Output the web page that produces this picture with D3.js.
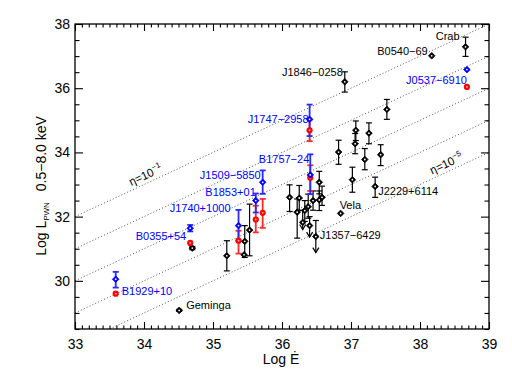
<!DOCTYPE html>
<html>
<head>
<meta charset="utf-8">
<script src="https://cdn.jsdelivr.net/npm/d3@7"></script>
<style>
  body { margin: 0; background: #fff; }
  text { font-family: "Liberation Sans", Arial, sans-serif; }
</style>
</head>
<body>
<svg id="chart" width="512" height="377"></svg>
<script>
// black points: log Edot, log L, error bar low / high (null = no bar)
const blackE  = [38.66, 38.17, 36.91, 37.52, 37.07, 37.06, 37.26, 36.82, 37.20, 37.43, 37.02, 37.35, 36.85,
                 36.11, 36.25, 36.22, 36.33, 36.38, 36.45, 36.54, 36.54, 36.58, 35.20, 35.46, 35.53, 35.45, 34.70, 34.51];
const blackL  = [37.29, 37.01, 36.20, 35.34, 34.69, 34.27, 34.60, 34.01, 33.78, 33.93, 33.15, 32.94, 32.10,
                 32.60, 32.58, 32.14, 32.19, 32.31, 32.50, 33.07, 32.52, 32.60, 30.78, 31.23, 31.58, 30.81, 31.02, 29.08];
const blackLo = [36.99, null, 35.88, 35.03, 34.37, 33.96, 34.27, 33.63, 33.46, 33.59, 32.76, 32.60, null,
                 32.16, 32.20, 31.33, 31.85, 31.95, 32.20, 32.71, 32.19, 32.35, 30.31, 30.73, 30.78, null, 30.97, 29.05];
const blackHi = [37.59, null, 36.51, 35.65, 34.98, 34.59, 34.92, 34.38, 34.12, 34.24, 33.54, 33.23, null,
                 32.99, 32.97, 32.55, 32.50, 32.70, 32.80, 33.41, 32.80, 32.95, 31.25, 31.72, 32.39, null, 31.07, 29.11];

// upper limits (black): point, top of bar, arrow tip
const limitE   = [36.30, 36.40, 36.49];
const limitL   = [31.82, 31.72, 31.38];
const limitTop = [32.19, 32.00, 31.88];
const limitTip = [31.60, 31.36, 30.88];

// pulsars with two measurements (blue and red)
const pairNames = ["B1929+10", "B0355+54", "J1740+1000", "B1853+01", "J1509\u22125850", "B1757\u221224", "J1747\u22122958", "J0537\u22126910"];
const pairE  = [33.59, 34.67, 35.37, 35.62, 35.72, 36.41, 36.40, 38.68];
const blueL  = [30.05, 31.64, 31.72, 32.50, 33.07, 33.30, 35.03, 36.58];
const blueLo = [29.79, 31.54, 31.25, 32.13, 32.71, 32.70, 34.51, null];
const blueHi = [30.28, 31.74, 32.21, 32.72, 33.44, 33.94, 35.49, null];
const redL   = [29.60, 31.18, 31.25, 31.91, 32.12, 33.21, 34.69, 36.04];
const redLo  = [null, null, 30.85, 31.51, 31.65, 32.80, 34.35, null];
const redHi  = [null, null, 31.56, 32.34, 32.55, 33.60, 35.02, null];

// black labels attached to black point index
const blackNames = ["Crab", "B0540\u221269", "J1846\u22120258", "J2229+6114", "Vela", "Geminga"];
const blackNameIdx = [0, 1, 2, 11, 12, 27];
const limitName = "J1357\u22126429";

// efficiency lines log L = log Edot + log eta
const etaExp = [-1, -2, -3, -4, -5];

const xTicks = [33, 34, 35, 36, 37, 38, 39];
const yTicks = [30, 32, 34, 36, 38];

// ---- layout ----
const svg = d3.select("#chart");
const plotLeft = 75, plotRight = 489, plotTop = 24, plotBottom = 329;

const x = d3.scaleLinear().domain([33, 39]).range([plotLeft, plotRight]);
const y = d3.scaleLinear().domain([28.5, 38]).range([plotBottom, plotTop]);

svg.append("defs").append("clipPath").attr("id", "plot")
  .append("rect").attr("x", plotLeft).attr("y", plotTop)
  .attr("width", plotRight - plotLeft).attr("height", plotBottom - plotTop);

// eta lines
const plot = svg.append("g").attr("clip-path", "url(#plot)");
plot.selectAll(".eta")
  .data(etaExp)
  .enter()
  .append("line")
  .attr("class", "eta")
  .attr("x1", x(33)).attr("y1", (d) => y(33 + d))
  .attr("x2", x(39)).attr("y2", (d) => y(39 + d))
  .attr("stroke", "#555")
  .attr("stroke-width", 1)
  .attr("stroke-dasharray", "1,2.2");

const angle = -Math.atan((y(33) - y(34)) / (x(34) - x(33))) * 180 / Math.PI;
function etaLabel(ex, exp) {
  const t = svg.append("text")
    .attr("transform", `translate(${x(ex)},${y(ex + exp)}) rotate(${angle}) translate(0,-4)`)
    .attr("text-anchor", "middle")
    .attr("font-size", 11.5)
    .attr("fill", "#000");
  t.append("tspan").text("\u03b7=10");
  t.append("tspan").attr("dy", -5).attr("font-size", 8).text("\u2212" + (-exp));
}
etaLabel(34.07, -1);
etaLabel(38.43, -5);

// axes: major and minor inward ticks on four sides
function axisSet(axisFn, scale, transform, major, minorStep, majorLen, minorLen, labels, pad) {
  const [d0, d1] = scale.domain();
  const minor = d3.range(d0, d1 + 1e-9, minorStep).filter((v) => !major.some((m) => Math.abs(m - v) < 1e-6));
  const gm = svg.append("g").attr("transform", transform)
    .call(axisFn(scale).tickValues(minor).tickSizeInner(-minorLen).tickSizeOuter(0).tickFormat(""));
  gm.select(".domain").remove();
  gm.selectAll("line").attr("stroke", "#000").attr("stroke-width", 1.1);
  const g = svg.append("g").attr("transform", transform)
    .call(axisFn(scale).tickValues(major).tickSizeInner(-majorLen).tickSizeOuter(0).tickPadding(pad)
      .tickFormat(labels ? d3.format("d") : ""));
  g.select(".domain").remove();
  g.selectAll("text").attr("font-size", 14).attr("fill", "#000")
    .attr("font-family", "'Liberation Sans', Arial, sans-serif");
  g.selectAll("line").attr("stroke", "#000").attr("stroke-width", 1.1);
}
axisSet(d3.axisBottom, x, `translate(0,${plotBottom})`, xTicks, 0.1, 7, 3.5, true, 10);
axisSet(d3.axisTop, x, `translate(0,${plotTop})`, xTicks, 0.1, 7, 3.5, false, 3);
axisSet(d3.axisLeft, y, `translate(${plotLeft},0)`, yTicks, 0.5, 8, 4.5, true, 5);
axisSet(d3.axisRight, y, `translate(${plotRight},0)`, yTicks, 0.5, 8, 4.5, false, 3);

svg.append("rect")
  .attr("x", plotLeft).attr("y", plotTop)
  .attr("width", plotRight - plotLeft).attr("height", plotBottom - plotTop)
  .attr("fill", "none").attr("stroke", "#000").attr("stroke-width", 1.3);

// axis titles
svg.append("text")
  .attr("x", 281)
  .attr("y", 364)
  .attr("text-anchor", "middle")
  .attr("font-size", 14)
  .text("Log \u0116");

const yt = svg.append("text")
  .attr("transform", "translate(46,186) rotate(-90)")
  .attr("text-anchor", "middle")
  .attr("font-size", 14);
yt.append("tspan").text("Log L");
yt.append("tspan").attr("font-size", 8).attr("dy", 3).text("PWN");
yt.append("tspan").attr("dy", -3).text("\u2002 0.5\u22128.0 keV");

// error bars
function errBar(g, ex, lo, hi, color, w) {
  g.append("line").attr("x1", x(ex)).attr("x2", x(ex)).attr("y1", y(lo)).attr("y2", y(hi))
    .attr("stroke", color).attr("stroke-width", w);
  [lo, hi].forEach((v) => {
    g.append("line").attr("x1", x(ex) - 3).attr("x2", x(ex) + 3).attr("y1", y(v)).attr("y2", y(v))
      .attr("stroke", color).attr("stroke-width", w);
  });
}
const diamond = (cx, cy, r) => `M${cx},${cy - r}L${cx + r},${cy}L${cx},${cy + r}L${cx - r},${cy}Z`;

const marks = svg.append("g");

// black points
blackE.forEach((e, i) => {
  if (blackLo[i] !== null) errBar(marks, e, blackLo[i], blackHi[i], "#000", 1.2);
});
limitE.forEach((e, i) => {
  const cx = x(e);
  marks.append("line").attr("x1", cx).attr("x2", cx).attr("y1", y(limitTop[i])).attr("y2", y(limitTip[i]))
    .attr("stroke", "#000").attr("stroke-width", 1.2);
  marks.append("line").attr("x1", cx - 3).attr("x2", cx + 3).attr("y1", y(limitTop[i])).attr("y2", y(limitTop[i]))
    .attr("stroke", "#000").attr("stroke-width", 1.2);
  marks.append("path")
    .attr("d", `M${cx - 3},${y(limitTip[i]) - 5}L${cx},${y(limitTip[i])}L${cx + 3},${y(limitTip[i]) - 5}`)
    .attr("fill", "none").attr("stroke", "#000").attr("stroke-width", 1.2);
});

// blue / red bars
pairE.forEach((e, i) => {
  if (redLo[i] !== null) errBar(marks, e, redLo[i], redHi[i], "#ff2a2a", 1.8);
  if (blueLo[i] !== null) errBar(marks, e, blueLo[i], blueHi[i], "#2a2aff", 1.8);
});

// markers
function drawDiamond(cx, cy, color) {
  marks.append("path").attr("d", diamond(cx, cy, 3.3)).attr("fill", color).attr("stroke", color).attr("stroke-width", 0.8);
  marks.append("circle").attr("cx", cx).attr("cy", cy).attr("r", 0.9).attr("fill", "#fff");
}
blackE.forEach((e, i) => drawDiamond(x(e), y(blackL[i]), "#000"));
limitE.forEach((e, i) => drawDiamond(x(e), y(limitL[i]), "#000"));
pairE.forEach((e, i) => {
  marks.append("circle").attr("cx", x(e)).attr("cy", y(redL[i])).attr("r", 3.1).attr("fill", "#ff0000");
  marks.append("circle").attr("cx", x(e)).attr("cy", y(redL[i])).attr("r", 0.9).attr("fill", "#ffb0b0");
  drawDiamond(x(e), y(blueL[i]), "#0000ff");
});

// labels: [dx, dy, anchor] relative to the point
const blackLabelPos = [[-6, -7, "end"], [-4, -1, "end"], [-2, -6, "end"], [3, 9, "start"], [-1, -4, "start"], [7, -1, "start"]];
blackNames.forEach((name, k) => {
  const i = blackNameIdx[k];
  const p = blackLabelPos[k];
  marks.append("text")
    .attr("x", x(blackE[i]) + p[0]).attr("y", y(blackL[i]) + p[1])
    .attr("text-anchor", p[2]).attr("font-size", 11).attr("fill", "#000").text(name);
});
marks.append("text")
  .attr("x", x(limitE[2]) + 4).attr("y", y(limitL[2]) + 2)
  .attr("font-size", 11).attr("fill", "#000").text(limitName);

const pairLabelPos = [[6, 16, "start"], [-4, 12, "end"], [-8, -14, "end"], [0, -5, "end"], [-2, -3, "end"], [-1, -12, "end"], [-1, 4, "end"], [0, 14, "end"]];
pairNames.forEach((name, i) => {
  const p = pairLabelPos[i];
  marks.append("text")
    .attr("x", x(pairE[i]) + p[0]).attr("y", y(blueL[i]) + p[1])
    .attr("text-anchor", p[2]).attr("font-size", 11).attr("fill", "#0000ff").text(name);
});
</script>
</body>
</html>
